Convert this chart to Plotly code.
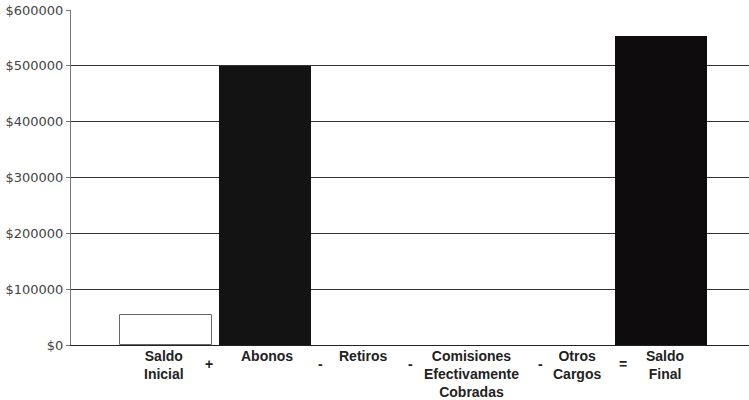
import plotly.graph_objects as go

categories = ["Saldo<br>Inicial", "Abonos", "Retiros", "Comisiones<br>Efectivamente<br>Cobradas", "Otros<br>Cargos", "Saldo<br>Final"]
values = [54000, 500000, 0, 0, 0, 554000]
operators = ["+", "-", "-", "-", "="]
y_ticks = [0, 100000, 200000, 300000, 400000, 500000, 600000]

# styling (not data)
fill_colors = ["#ffffff", "#131313", "#131313", "#131313", "#131313", "#0e0c0c"]
line_colors = ["#666666", "#131313", "#131313", "#131313", "#131313", "#0e0c0c"]
line_widths = [1, 0, 0, 0, 0, 0]
label_xshift = [-2, 2, -1, 9, 15, 4]
op_xshift = [-7, 6, -3, 28, 12]

xpos = list(range(1, len(categories) + 1))

fig = go.Figure()
fig.add_trace(go.Bar(
    x=xpos, y=values, width=0.93,
    marker=dict(color=fill_colors, line=dict(color=line_colors, width=line_widths)),
    hoverinfo="skip",
))

for i, c in enumerate(categories):
    fig.add_annotation(
        x=xpos[i], y=0, xref="x", yref="paper",
        text="<b>" + c + "</b>", showarrow=False,
        yanchor="top", yshift=-1, xshift=label_xshift[i],
        font=dict(family="Liberation Sans, Arial", size=14, color="#222"),
    )

for i, op in enumerate(operators):
    fig.add_annotation(
        x=xpos[i] + 0.5, y=0, xref="x", yref="paper",
        text="<b>" + op + "</b>", showarrow=False,
        yanchor="top", yshift=-9, xshift=op_xshift[i],
        font=dict(family="Liberation Sans, Arial", size=14, color="#222"),
    )

fig.update_layout(
    width=749, height=400,
    margin=dict(l=71, r=0, t=10, b=55),
    paper_bgcolor="white", plot_bgcolor="white",
    showlegend=False,
    bargap=0,
)
fig.update_xaxes(
    range=[0.04, 6.89],
    showticklabels=False,
    showgrid=False, showline=True, linecolor="#222", linewidth=1,
    ticks="", zeroline=False, automargin=False,
)
fig.update_yaxes(
    range=[0, 600000],
    tickvals=y_ticks, ticktext=["$" + str(v) for v in y_ticks],
    tickfont=dict(family="DejaVu Sans, Liberation Sans", size=13, color="#444"),
    showgrid=True, gridcolor="#333333", gridwidth=1,
    showline=True, linecolor="#777", linewidth=1,
    ticks="outside", ticklen=4, tickcolor="#777",
    zeroline=False, automargin=False,
)

fig.write_html(
    "out.html",
    config={"displayModeBar": False},
    post_script="document.body.style.margin='0';document.body.style.overflow='hidden';",
)
